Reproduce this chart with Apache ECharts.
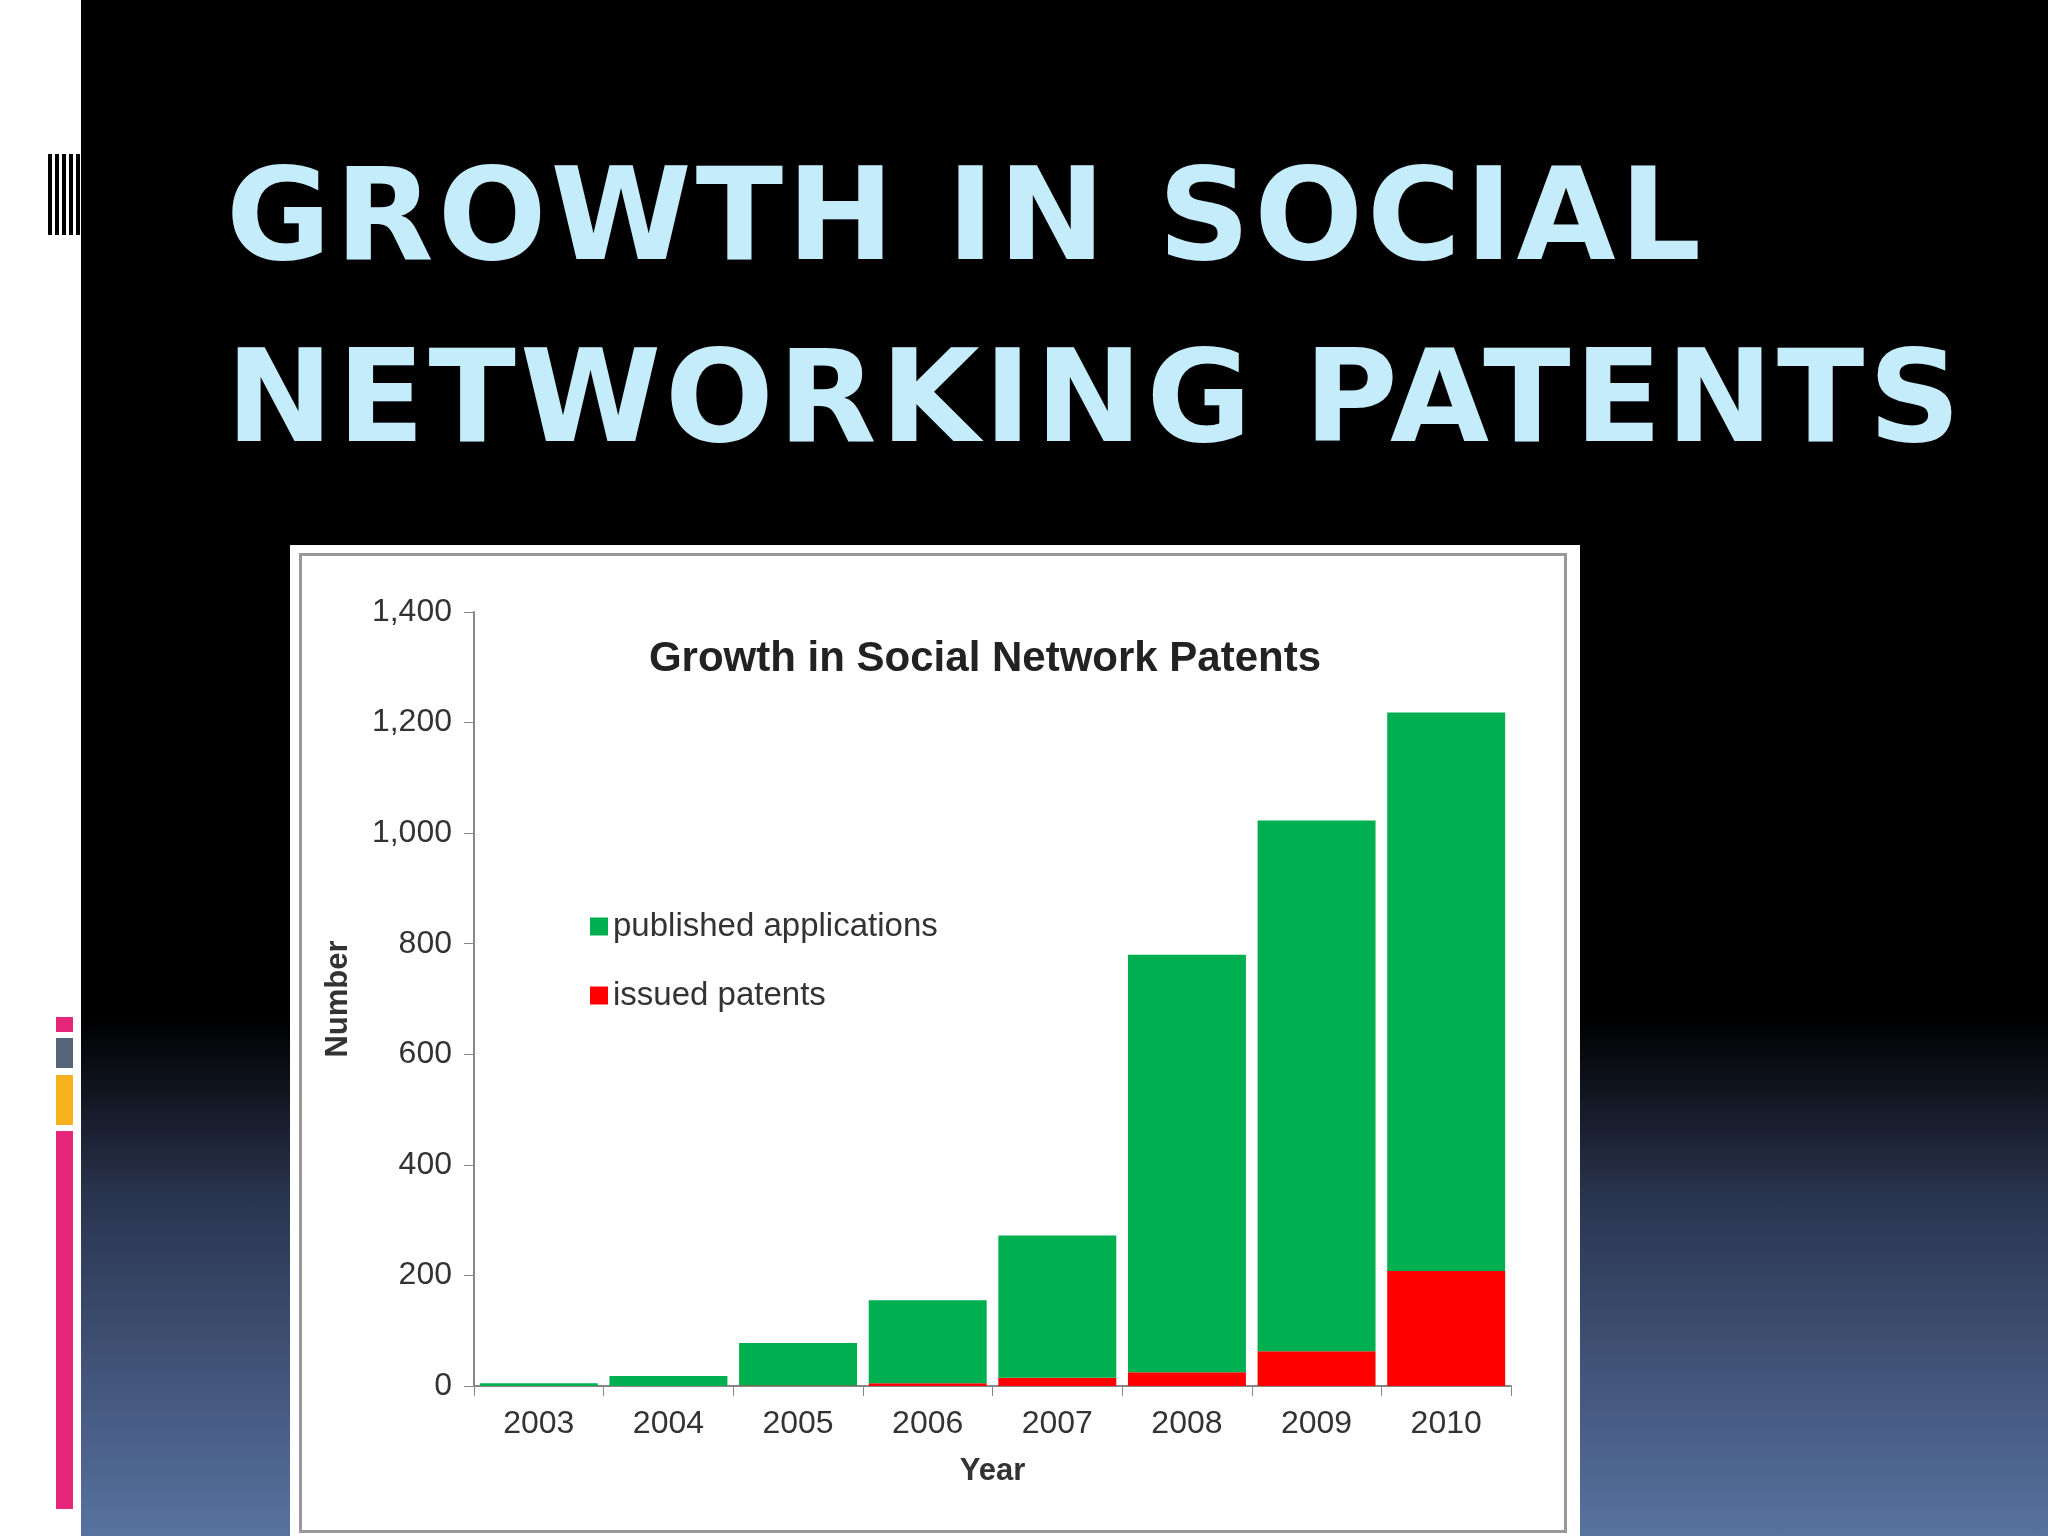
<!DOCTYPE html>
<html>
<head>
<meta charset="utf-8">
<script src="https://cdn.jsdelivr.net/npm/echarts@6/dist/echarts.min.js"></script>
<style>
html, body { margin: 0; padding: 0; width: 2048px; height: 1536px; overflow: hidden; }
body { position: relative; background: linear-gradient(to bottom, #000 0px, #000 1020px, #2a3550 1200px, #5872a0 1536px); }
.strip { position: absolute; left: 0; top: 0; width: 81px; height: 1536px; background: #fff; }
.deco { position: absolute; }
.title { position: absolute; left: 226px; color: #c4ecfb; font-family: "DejaVu Sans", sans-serif; font-weight: bold; font-size: 128px; letter-spacing: 4px; white-space: nowrap; }
#box { position: absolute; left: 290px; top: 545px; width: 1290px; height: 991px; background: #fff; }
#inner { position: absolute; left: 9px; top: 8px; width: 1268px; height: 980px; border: 3px solid #999; box-sizing: border-box; }
#chart { position: absolute; left: 0; top: 0; width: 1290px; height: 991px; }
</style>
</head>
<body>
<div class="strip"></div>
<div class="deco" style="left:48px;top:154px;width:32px;height:81px;background:repeating-linear-gradient(to right,#000 0,#000 4px,#fff 4px,#fff 7px);"></div>
<div class="deco" style="left:56px;top:1017px;width:17px;height:15px;background:#e6267a;"></div>
<div class="deco" style="left:56px;top:1038px;width:17px;height:30px;background:#56647a;"></div>
<div class="deco" style="left:56px;top:1075px;width:17px;height:50px;background:#f5b21c;"></div>
<div class="deco" style="left:56px;top:1131px;width:17px;height:378px;background:#e6267a;"></div>
<div class="title" style="top:140px;">GROWTH IN SOCIAL</div>
<div class="title" style="top:322px;">NETWORKING PATENTS</div>
<div id="box"><div id="inner"></div><div id="chart"></div></div>
<script>
var years = ['2003', '2004', '2005', '2006', '2007', '2008', '2009', '2010'];
var issued = [0, 0, 1, 5, 15, 25, 63, 208];
var published = [5, 18, 77, 150, 257, 755, 960, 1010];

var chart = echarts.init(document.getElementById('chart'));
var font = '"Liberation Sans", sans-serif';
chart.setOption({
    animation: false,
    title: {
        text: 'Growth in Social Network Patents',
        left: 690, top: 88, textAlign: 'center',
        textStyle: { fontFamily: font, fontSize: 42, fontWeight: 'bold', color: '#222' }
    },
    legend: {
        orient: 'vertical', left: 295, top: 360, itemGap: 36,
        itemWidth: 18, itemHeight: 18, icon: 'rect',
        data: ['published applications', 'issued patents'],
        textStyle: { fontFamily: font, fontSize: 33, color: '#333' }
    },
    grid: { left: 184, right: 69, top: 67, bottom: 150 },
    xAxis: {
        type: 'category', data: years,
        name: 'Year', nameLocation: 'middle', nameGap: 70,
        nameTextStyle: { fontFamily: font, fontSize: 31, fontWeight: 'bold', color: '#333' },
        axisLine: { lineStyle: { color: '#888', width: 2 } },
        axisTick: { show: true, length: 10, lineStyle: { color: '#888' } },
        axisLabel: { fontFamily: font, fontSize: 32, color: '#333', margin: 22 }
    },
    yAxis: {
        type: 'value', min: 0, max: 1400, interval: 200,
        name: 'Number', nameLocation: 'middle', nameGap: 120, nameRotate: 90,
        nameTextStyle: { fontFamily: font, fontSize: 31, fontWeight: 'bold', color: '#333' },
        axisLine: { show: true, lineStyle: { color: '#888', width: 2 } },
        axisTick: { show: true, length: 10, lineStyle: { color: '#888' } },
        splitLine: { show: false },
        axisLabel: { fontFamily: font, fontSize: 32, color: '#333', margin: 22 }
    },
    series: [
        { name: 'issued patents', type: 'bar', stack: 'a', data: issued, barCategoryGap: '9%',
          itemStyle: { color: '#ff0000' } },
        { name: 'published applications', type: 'bar', stack: 'a', data: published,
          itemStyle: { color: '#00b050' } }
    ]
});
</script>
</body>
</html>
